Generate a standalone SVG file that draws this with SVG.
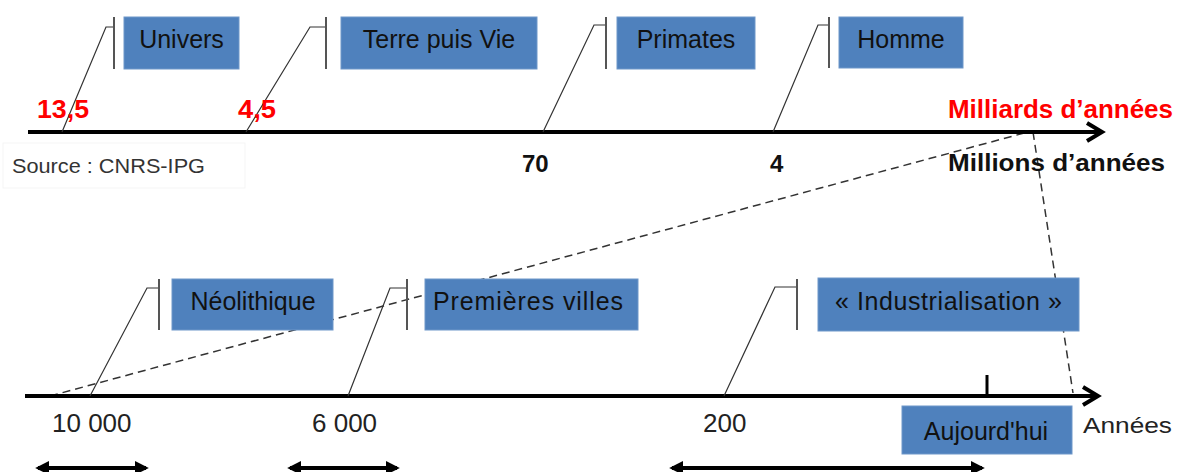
<svg xmlns="http://www.w3.org/2000/svg" width="1183" height="472" viewBox="0 0 1183 472">
<defs>
<style>
.box{fill:#4F81BD;stroke:#6F97C9;stroke-width:1}
.bt{font-family:"Liberation Sans",Arial,sans-serif;font-size:25px;fill:#111;text-anchor:middle}
.call{fill:none;stroke:#333;stroke-width:1.2}
.bar{stroke:#555;stroke-width:2}
.axis{stroke:#000;stroke-width:4;fill:none}
.head{stroke:#000;stroke-width:4;fill:none;stroke-linejoin:miter}
.dash{stroke:#333;stroke-width:1.5;stroke-dasharray:8 5;fill:none}
.red{font-family:"Liberation Sans",Arial,sans-serif;font-weight:bold;font-size:25px;fill:#FF0000}
.blk{font-family:"Liberation Sans",Arial,sans-serif;font-weight:bold;font-size:24px;fill:#111}
.num{font-family:"Liberation Sans",Arial,sans-serif;font-size:26px;fill:#222}
.dbl{stroke:#000;stroke-width:4}
</style>
<marker id="tri" viewBox="0 0 10 10" refX="8" refY="5" markerWidth="3.5" markerHeight="3.5" orient="auto-start-reverse" markerUnits="strokeWidth">
<path d="M0,0 L10,5 L0,10 z" fill="#000"/>
</marker>
</defs>
<rect width="1183" height="472" fill="#fff"/>

<g id="source">
<rect x="3" y="143" width="242" height="45" fill="#fff" stroke="#f5f5f5" stroke-width="1"/>
<text x="12" y="173" font-family="'Liberation Sans',Arial,sans-serif" font-size="21" fill="#333" textLength="193" lengthAdjust="spacingAndGlyphs">Source : CNRS-IPG</text>
</g>

<g id="connectors">
<line class="dash" x1="50" y1="396" x2="1028" y2="132"/>
<line class="dash" x1="1033" y1="132" x2="1073" y2="393"/>
<line class="axis" x1="28" y1="132" x2="1100" y2="132"/>
<polyline class="head" points="1087,123 1102,132 1087,141"/>
<line class="axis" x1="25" y1="396" x2="1097" y2="396"/>
<polyline class="head" points="1083,387 1098,396 1083,405"/>
<line x1="987" y1="375" x2="987" y2="396" stroke="#000" stroke-width="3"/>
<polyline class="call" points="62,132 106,27 114,27"/>
<line class="bar" x1="114" y1="17" x2="114" y2="69"/>
<polyline class="call" points="246,132 310,27 326,27"/>
<line class="bar" x1="326" y1="17" x2="326" y2="69"/>
<polyline class="call" points="543,132 594,25 606,25"/>
<line class="bar" x1="606" y1="17" x2="606" y2="69"/>
<polyline class="call" points="773,132 818,25 829,25"/>
<line class="bar" x1="829" y1="17" x2="829" y2="68"/>
<polyline class="call" points="90,396 147,288 159,288"/>
<line class="bar" x1="159" y1="279" x2="159" y2="330"/>
<polyline class="call" points="348,396 390,288 407,288"/>
<line class="bar" x1="407" y1="279" x2="407" y2="330"/>
<polyline class="call" points="724,396 775,287 797,287"/>
<line class="bar" x1="797" y1="279" x2="797" y2="330"/>
<line class="dbl" x1="38" y1="468" x2="146" y2="468" marker-start="url(#tri)" marker-end="url(#tri)"/>
<line class="dbl" x1="290" y1="468" x2="397" y2="468" marker-start="url(#tri)" marker-end="url(#tri)"/>
<line class="dbl" x1="672" y1="468" x2="982" y2="468" marker-start="url(#tri)" marker-end="url(#tri)"/>
</g>

<g id="univers"><rect class="box" x="124" y="17" width="115" height="52"/><text class="bt" x="181.5" y="48">Univers</text></g>
<g id="terre"><rect class="box" x="341" y="17" width="196" height="52"/><text class="bt" x="439" y="48">Terre puis Vie</text></g>
<g id="primates"><rect class="box" x="617" y="17" width="138" height="52"/><text class="bt" x="686" y="48">Primates</text></g>
<g id="homme"><rect class="box" x="839" y="17" width="124" height="51"/><text class="bt" x="901" y="48">Homme</text></g>
<g id="neolithique"><rect class="box" x="172" y="279" width="161" height="51"/><text class="bt" x="253" y="310">Néolithique</text></g>
<g id="villes"><rect class="box" x="425" y="279" width="213" height="51"/><text class="bt" x="528" y="310" textLength="190" lengthAdjust="spacing">Premières villes</text></g>
<g id="industrialisation"><rect class="box" x="818" y="278" width="261" height="53"/><text class="bt" x="948.5" y="310" textLength="227" lengthAdjust="spacing">« Industrialisation »</text></g>
<g id="aujourdhui"><rect class="box" x="902" y="406" width="170" height="48"/><text class="bt" x="986" y="440">Aujourd'hui</text></g>

<g id="labels">
<text class="red" x="37" y="118" textLength="52" lengthAdjust="spacingAndGlyphs">13,5</text>
<text class="red" x="238" y="118" textLength="38" lengthAdjust="spacingAndGlyphs">4,5</text>
<text class="red" x="948" y="118" textLength="225" lengthAdjust="spacingAndGlyphs">Milliards d’années</text>
<text class="blk" x="948" y="171" textLength="217" lengthAdjust="spacingAndGlyphs">Millions d’années</text>
<text class="blk" x="522" y="172">70</text>
<text class="blk" x="770" y="172">4</text>
<text class="num" x="52" y="432">10 000</text>
<text class="num" x="312" y="432">6 000</text>
<text class="num" x="703" y="432">200</text>
<text x="1083" y="433" font-family="'Liberation Sans',Arial,sans-serif" font-size="22" fill="#222" textLength="89" lengthAdjust="spacingAndGlyphs">Années</text>
</g>
</svg>
